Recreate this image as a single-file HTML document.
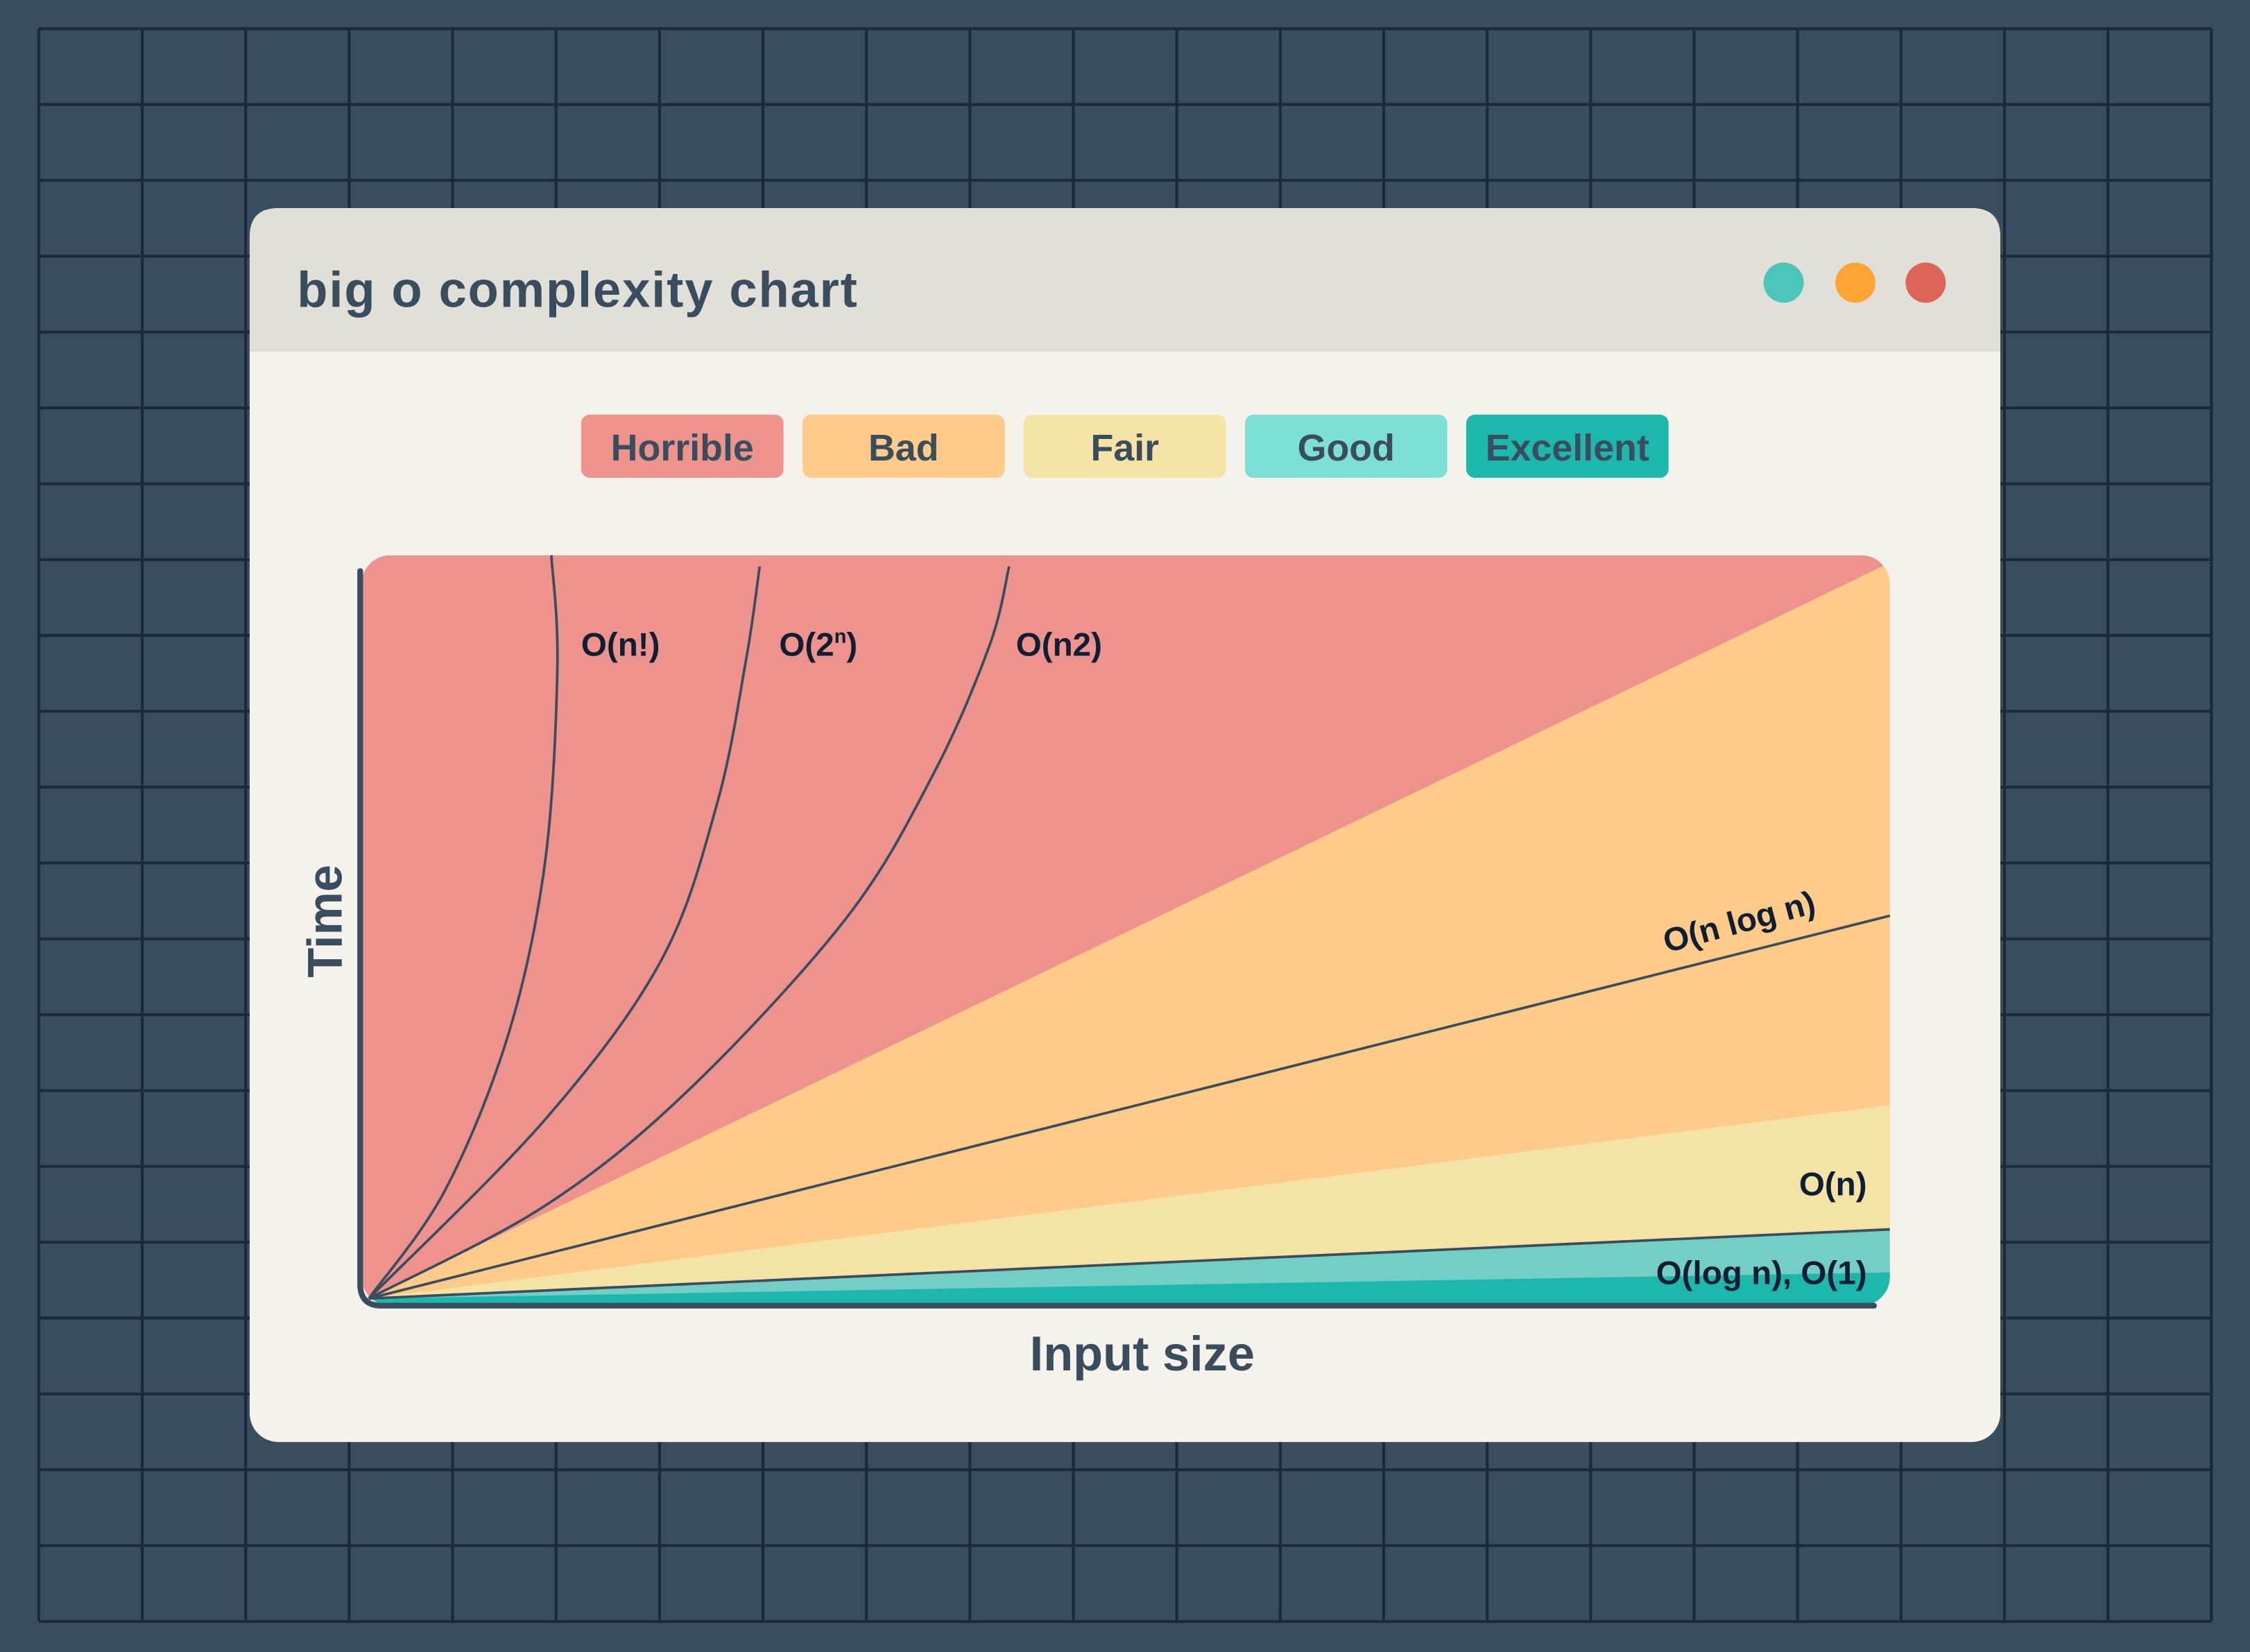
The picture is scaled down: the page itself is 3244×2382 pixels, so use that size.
<!DOCTYPE html>
<html><head><meta charset="utf-8"><style>
html,body{margin:0;padding:0;background:#384e60;}
svg{display:block;}
text{font-family:"Liberation Sans",sans-serif;}
</style></head><body>
<svg id="svg" width="3244" height="2382" viewBox="0 0 1568 1151.36" xmlns="http://www.w3.org/2000/svg">
<rect x="0" y="0" width="1568" height="1152" fill="#384e60"/>
<g id="grid" stroke="#1a2a3c" stroke-width="2" fill="none"></g>
<g>
<rect x="174" y="145" width="1220" height="860" rx="20" fill="#f5f2eb"/>
<path d="M174,245 V165 Q174,145 194,145 H1374 Q1394,145 1394,165 V245 Z" fill="#e0e0d8"/>
<text x="207" y="214" font-size="35" font-weight="bold" letter-spacing="0.9" fill="#3a4d5e">big o complexity chart</text>
<circle cx="1243" cy="197" r="14" fill="#4bc4ba"/>
<circle cx="1293" cy="197" r="14" fill="#fba634"/>
<circle cx="1342" cy="197" r="14" fill="#dd6458"/>
</g>
<g id="legend"></g>
<defs><clipPath id="plotclip"><rect x="252" y="387" width="1065" height="523" rx="20"/></clipPath></defs>
<g id="plot" clip-path="url(#plotclip)"></g>
<g id="lines" fill="none" stroke="#3a4d5e" stroke-width="1.8"></g>
<path d="M251,398 V895 Q251,910 266,910 H1306" fill="none" stroke="#3a4d5e" stroke-width="4" stroke-linecap="round"/>
<text x="238" y="642" font-size="34" font-weight="bold" fill="#3a4d5e" text-anchor="middle" transform="rotate(-90 238 642)">Time</text>
<text x="796" y="955" font-size="34" font-weight="bold" fill="#3a4d5e" text-anchor="middle">Input size</text>
<g id="labels" font-size="23" font-weight="bold" fill="#0f1f33">
<text x="405" y="457">O(n!)</text>
<text x="543" y="457">O(2<tspan font-size="14" dy="-9">n</tspan><tspan dy="9">)</tspan></text>
<text x="708" y="457">O(n2)</text>
<text x="1214" y="650" text-anchor="middle" transform="rotate(-15 1214 650)">O(n log n)</text>
<text x="1301" y="833" text-anchor="end">O(n)</text>
<text x="1301" y="895" text-anchor="end">O(log n), O(1)</text>
</g>
</svg>
<script>
const NS="http://www.w3.org/2000/svg";
// legend data
const legendNames=["Horrible","Bad","Fair","Good","Excellent"];
const legendColors=["#ed928c","#fecb88","#f5e2a6","#7de0d6","#1db8ab"];
// region boundary heights at x=100 (data units 0..100)
const regionNames=["bad","fair","good","excellent"];
const regionTops=[99,26,9.3,3.5];
const regionColors=["#fecb88","#f5e2a6","#72cec6","#1db8ab"];
// curves
const factX=[0,5.0,9.2,11.6,12.4,12.0];
const factY=[0,14.5,35.7,58.9,85,100];
const expX=[0,11.6,19.2,22.9,24.8,25.7];
const expY=[0,24.1,45.4,66.6,85.9,98.5];
const sqX=[0,11.6,21.0,31.4,37.1,40.8,42.1];
const sqY=[0,12.5,28.0,51.2,70.5,87.8,98.5];
const nlognEnd=[100,51.5];
const logEnd=[100,9.3];

const sx=v=>257+v*10.6;
const sy=v=>905-v*5.18;

function el(tag,attrs,parent){const e=document.createElementNS(NS,tag);for(const k in attrs)e.setAttribute(k,attrs[k]);parent.appendChild(e);return e;}

// grid
const grid=document.getElementById('grid');
for(let i=0;i<=21;i++){const x=27+i*72.1;const l=el('line',{x1:x,y1:20,x2:x,y2:1130},grid);

}
for(let j=0;j<=21;j++){const y=20+j*52.86;const l=el('line',{x1:27,y1:y,x2:1541,y2:y},grid);

}

// legend
const lg=document.getElementById('legend');
legendNames.forEach((n,i)=>{
 const x=405+i*154.2;
 const g=el('g',{},lg);
 
 
 el('rect',{x:x,y:289,width:141,height:44,rx:6,fill:legendColors[i]},g);
 const t=el('text',{x:x+70.5,y:321,'font-size':26,'font-weight':'bold',fill:'#3a4d5e','text-anchor':'middle'},g);
 t.textContent=n;
});

// regions
const plot=document.getElementById('plot');
const bg=el('rect',{x:252,y:387,width:1065,height:523,fill:legendColors[0]},plot);


regionTops.forEach((t,i)=>{
 const p=el('polygon',{points:`${sx(0)},${sy(0)} ${sx(100)},${sy(t)} 1330,${sy(t)} 1330,920 ${sx(0)},920`,fill:regionColors[i]},plot);
 
 
});

// lines
const lines=document.getElementById('lines');
function smooth(xs,ys){
 const pts=xs.map((x,i)=>[sx(x),sy(ys[i])]);
 let d=`M${pts[0][0]},${pts[0][1]}`;
 for(let i=0;i<pts.length-1;i++){
  const p0=pts[Math.max(0,i-1)],p1=pts[i],p2=pts[i+1],p3=pts[Math.min(pts.length-1,i+2)];
  const c1=[p1[0]+(p2[0]-p0[0])/6,p1[1]+(p2[1]-p0[1])/6];
  const c2=[p2[0]-(p3[0]-p1[0])/6,p2[1]-(p3[1]-p1[1])/6];
  d+=` C${c1[0]},${c1[1]} ${c2[0]},${c2[1]} ${p2[0]},${p2[1]}`;
 }
 return d;
}
const c1=el('path',{d:smooth(factX,factY)},lines);


const c2=el('path',{d:smooth(expX,expY)},lines);


const c3=el('path',{d:smooth(sqX,sqY)},lines);


const l1=el('line',{x1:sx(0),y1:sy(0),x2:sx(nlognEnd[0]),y2:sy(nlognEnd[1])},lines);


const l2=el('line',{x1:sx(0),y1:sy(0),x2:sx(logEnd[0]),y2:sy(logEnd[1])},lines);


</script>
</body></html>
